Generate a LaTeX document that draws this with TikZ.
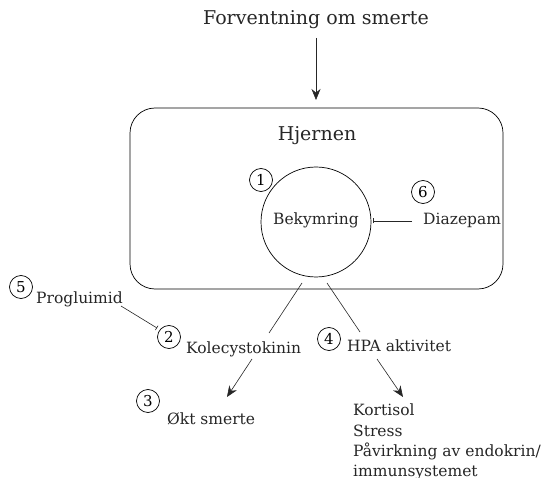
\documentclass[tikz,border=0pt]{standalone}
\usepackage{fontspec}
\setmainfont{DejaVu Serif}
\usetikzlibrary{arrows.meta}
\begin{document}
\begin{tikzpicture}[x=1pt,y=-1pt,
  lbl/.style={inner sep=0pt,font=\fontsize{15.5}{18}\selectfont,text=black!85},
  big/.style={inner sep=0pt,font=\fontsize{19}{23}\selectfont,text=black!85},
  num/.style={circle,draw,line width=0.7pt,minimum size=23pt,inner sep=0pt,font=\fontsize{15}{16}\selectfont},
  conn/.style={line width=0.6pt,draw=black!85},
  arr/.style={conn,-{Stealth[length=11pt,width=9pt]}},
  inh/.style={conn,-{Bar[width=5pt,line width=0.6pt]}}]
\useasboundingbox (0,0) rectangle (546,478);
\node[big] (top) at (316,20) {Forventning om smerte};
\node[draw,line width=0.7pt,rounded corners=25pt,minimum width=373pt,minimum height=181pt] (brain) at (316.5,198.5) {};
\node[big] (hj) at (317,136) {Hjernen};
\node[circle,draw,line width=0.7pt,minimum size=110pt,inner sep=0pt] (circ) at (316,222) {};
\node[lbl] (bek) at (316,220) {Bekymring};
\node[num] (n1) at (261,180) {1};
\node[num] (n6) at (423,192) {6};
\node[lbl,anchor=west] (dia) at (423,220) {Diazepam};
\node[num] (n5) at (21,287) {5};
\node[lbl,anchor=west] (pro) at (36,299) {Progluimid};
\node[num] (n2) at (169,337) {2};
\node[lbl,anchor=west] (kol) at (186,349) {Kolecystokinin};
\node[num] (n4) at (329,339) {4};
\node[lbl,anchor=west] (hpa) at (347,346) {HPA aktivitet};
\node[num] (n3) at (148,401) {3};
\node[lbl,anchor=west] (okt) at (167,419) {Økt smerte};
\node[lbl,anchor=north west,align=left,font=\fontsize{15.5}{20.3}\selectfont] (kort) at (353,404) {Kortisol\\Stress\\Påvirkning av endokrin/\\immunsystemet};
\coordinate (a1) at (316,38);
\coordinate (a2) at (316,100);
\draw[arr] (a1) -- (a2);
\coordinate (d1) at (412,221);
\coordinate (d2) at (373,221);
\draw[inh] (d1) -- (d2);
\coordinate (p1) at (121,306);
\coordinate (p2) at (157,328);
\draw[inh] (p1) -- (p2);
\coordinate (l1) at (302,283);
\coordinate (l2) at (269,333);
\draw[conn] (l1) -- (l2);
\coordinate (r1) at (327,283);
\coordinate (r2) at (360,332);
\draw[conn] (r1) -- (r2);
\coordinate (k1) at (252,359);
\coordinate (k2) at (227,397);
\draw[arr] (k1) -- (k2);
\coordinate (h1) at (377,359);
\coordinate (h2) at (403,397);
\draw[arr] (h1) -- (h2);
\end{tikzpicture}
\end{document}
